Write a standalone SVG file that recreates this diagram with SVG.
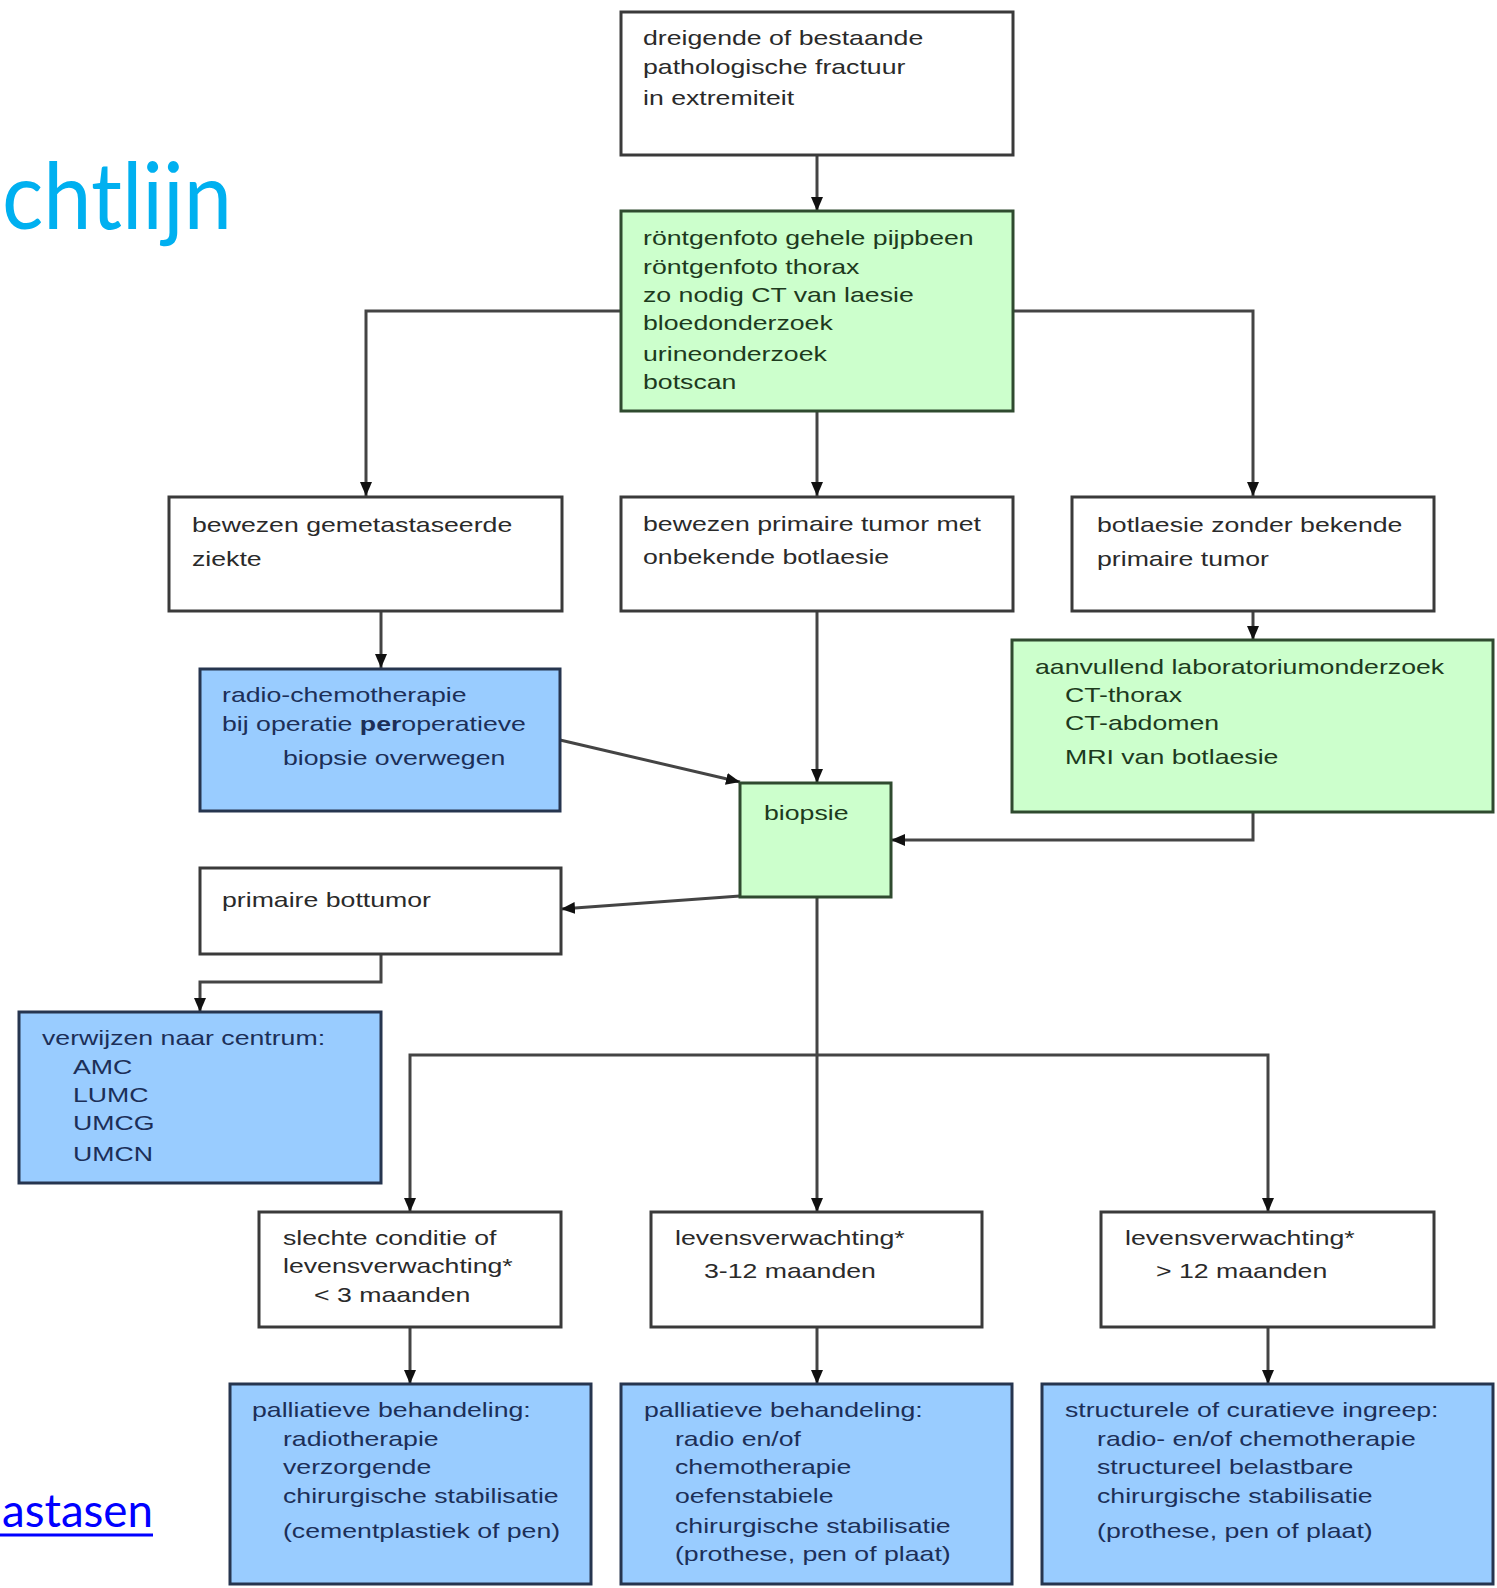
<svg xmlns="http://www.w3.org/2000/svg" width="1497" height="1588" viewBox="0 0 1497 1588">
<style>
.box{stroke-width:3}
.w{fill:#ffffff;stroke:#3a3a3a}
.g{fill:#ccffcc;stroke:#2f4a2f}
.b{fill:#99ccff;stroke:#26354f}
.t{font-family:"Liberation Sans",Arial,sans-serif;font-size:21px}
.tw{fill:#2a2a2a}
.tg{fill:#1d3a1d}
.tb{fill:#1c2f58}
.con{fill:none;stroke:#444;stroke-width:3}
</style>
<defs>
<marker id="ah" markerWidth="14" markerHeight="14" refX="14" refY="7" orient="auto" markerUnits="userSpaceOnUse"><path d="M0,1 L14,7 L0,13 z" fill="#111"/></marker>
</defs>
<rect width="1497" height="1588" fill="#ffffff"/>
<text x="2" y="229" font-family="Lato, 'Open Sans', sans-serif" font-size="94" fill="#00b0f0" textLength="230" lengthAdjust="spacingAndGlyphs">chtlijn</text>
<text x="2" y="1527" font-family="Lato, 'Open Sans', sans-serif" font-size="47" fill="#0000ff" textLength="151" lengthAdjust="spacingAndGlyphs">astasen</text>
<line x1="0" y1="1535" x2="153" y2="1535" stroke="#0000ff" stroke-width="3"/>

<g id="connectors">
<path class="con" d="M817,155 V211" marker-end="url(#ah)"/>
<path class="con" d="M621,311 H366 V496" marker-end="url(#ah)"/>
<path class="con" d="M1013,311 H1253 V496" marker-end="url(#ah)"/>
<path class="con" d="M817,411 V496" marker-end="url(#ah)"/>
<path class="con" d="M817,611 V783" marker-end="url(#ah)"/>
<path class="con" d="M381,611 V668" marker-end="url(#ah)"/>
<path class="con" d="M1253,611 V640" marker-end="url(#ah)"/>
<path class="con" d="M1253,812 V840 H891" marker-end="url(#ah)"/>
<path class="con" d="M560,740 L740,782" marker-end="url(#ah)"/>
<path class="con" d="M740,896 L561,909" marker-end="url(#ah)"/>
<path class="con" d="M381,954 V982 H200 V1012" marker-end="url(#ah)"/>
<path class="con" d="M817,897 V1212" marker-end="url(#ah)"/>
<path class="con" d="M817,1055 H410 V1212" marker-end="url(#ah)"/>
<path class="con" d="M817,1055 H1268 V1212" marker-end="url(#ah)"/>
<path class="con" d="M410,1327 V1384" marker-end="url(#ah)"/>
<path class="con" d="M817,1327 V1384" marker-end="url(#ah)"/>
<path class="con" d="M1268,1327 V1384" marker-end="url(#ah)"/>
</g>

<g id="n-fractuur">
<rect class="box w" x="621" y="12" width="392" height="143"/>
<text class="t tw" transform="translate(643 0) scale(1.27 1)"><tspan x="0" y="45">dreigende of bestaande</tspan><tspan x="0" y="74">pathologische fractuur</tspan><tspan x="0" y="105">in extremiteit</tspan></text>
</g>

<g id="n-onderzoek">
<rect class="box g" x="621" y="211" width="392" height="200"/>
<text class="t tg" transform="translate(643 0) scale(1.27 1)"><tspan x="0" y="245">röntgenfoto gehele pijpbeen</tspan><tspan x="0" y="274">röntgenfoto thorax</tspan><tspan x="0" y="302">zo nodig CT van laesie</tspan><tspan x="0" y="330">bloedonderzoek</tspan><tspan x="0" y="361">urineonderzoek</tspan><tspan x="0" y="389">botscan</tspan></text>
</g>

<g id="n-gemetastaseerd">
<rect class="box w" x="169" y="497" width="393" height="114"/>
<text class="t tw" transform="translate(192 0) scale(1.27 1)"><tspan x="0" y="532">bewezen gemetastaseerde</tspan><tspan x="0" y="566">ziekte</tspan></text>
</g>

<g id="n-primaire-tumor">
<rect class="box w" x="621" y="497" width="392" height="114"/>
<text class="t tw" transform="translate(643 0) scale(1.27 1)"><tspan x="0" y="531">bewezen primaire tumor met</tspan><tspan x="0" y="564">onbekende botlaesie</tspan></text>
</g>

<g id="n-botlaesie">
<rect class="box w" x="1072" y="497" width="362" height="114"/>
<text class="t tw" transform="translate(1097 0) scale(1.27 1)"><tspan x="0" y="532">botlaesie zonder bekende</tspan><tspan x="0" y="566">primaire tumor</tspan></text>
</g>

<g id="n-aanvullend">
<rect class="box g" x="1012" y="640" width="481" height="172"/>
<text class="t tg" transform="translate(1035 0) scale(1.27 1)"><tspan x="0" y="674">aanvullend laboratoriumonderzoek</tspan><tspan x="23.6" y="702">CT-thorax</tspan><tspan x="23.6" y="730">CT-abdomen</tspan><tspan x="23.6" y="764">MRI van botlaesie</tspan></text>
</g>

<g id="n-radio">
<rect class="box b" x="200" y="669" width="360" height="142"/>
<text class="t tb" transform="translate(222 0) scale(1.27 1)"><tspan x="0" y="702">radio-chemotherapie</tspan><tspan x="0" y="731">bij operatie <tspan font-weight="bold">per</tspan>operatieve</tspan><tspan x="48" y="765">biopsie overwegen</tspan></text>
</g>

<g id="n-biopsie">
<rect class="box g" x="740" y="783" width="151" height="114"/>
<text class="t tg" transform="translate(764 0) scale(1.27 1)"><tspan x="0" y="820">biopsie</tspan></text>
</g>

<g id="n-bottumor">
<rect class="box w" x="200" y="868" width="361" height="86"/>
<text class="t tw" transform="translate(222 0) scale(1.27 1)"><tspan x="0" y="907">primaire bottumor</tspan></text>
</g>

<g id="n-verwijzen">
<rect class="box b" x="19" y="1012" width="362" height="171"/>
<text class="t tb" transform="translate(42 0) scale(1.27 1)"><tspan x="0" y="1045">verwijzen naar centrum:</tspan><tspan x="24.4" y="1074">AMC</tspan><tspan x="24.4" y="1102">LUMC</tspan><tspan x="24.4" y="1130">UMCG</tspan><tspan x="24.4" y="1161">UMCN</tspan></text>
</g>

<g id="n-slechte">
<rect class="box w" x="259" y="1212" width="302" height="115"/>
<text class="t tw" transform="translate(283 0) scale(1.27 1)"><tspan x="0" y="1245">slechte conditie of</tspan><tspan x="0" y="1273">levensverwachting*</tspan><tspan x="24.4" y="1302">&lt; 3 maanden</tspan></text>
</g>

<g id="n-lev-3-12">
<rect class="box w" x="651" y="1212" width="331" height="115"/>
<text class="t tw" transform="translate(675 0) scale(1.27 1)"><tspan x="0" y="1245">levensverwachting*</tspan><tspan x="22.8" y="1278">3-12 maanden</tspan></text>
</g>

<g id="n-lev-12">
<rect class="box w" x="1101" y="1212" width="333" height="115"/>
<text class="t tw" transform="translate(1125 0) scale(1.27 1)"><tspan x="0" y="1245">levensverwachting*</tspan><tspan x="24.4" y="1278">&gt; 12 maanden</tspan></text>
</g>

<g id="n-palliatief-1">
<rect class="box b" x="230" y="1384" width="361" height="200"/>
<text class="t tb" transform="translate(252 0) scale(1.27 1)"><tspan x="0" y="1417">palliatieve behandeling:</tspan><tspan x="24.4" y="1446">radiotherapie</tspan><tspan x="24.4" y="1474">verzorgende</tspan><tspan x="24.4" y="1503">chirurgische stabilisatie</tspan><tspan x="24.4" y="1538">(cementplastiek of pen)</tspan></text>
</g>

<g id="n-palliatief-2">
<rect class="box b" x="621" y="1384" width="391" height="200"/>
<text class="t tb" transform="translate(644 0) scale(1.27 1)"><tspan x="0" y="1417">palliatieve behandeling:</tspan><tspan x="24.4" y="1446">radio en/of</tspan><tspan x="24.4" y="1474">chemotherapie</tspan><tspan x="24.4" y="1503">oefenstabiele</tspan><tspan x="24.4" y="1533">chirurgische stabilisatie</tspan><tspan x="24.4" y="1561">(prothese, pen of plaat)</tspan></text>
</g>

<g id="n-structureel">
<rect class="box b" x="1042" y="1384" width="451" height="200"/>
<text class="t tb" transform="translate(1065 0) scale(1.27 1)"><tspan x="0" y="1417">structurele of curatieve ingreep:</tspan><tspan x="25.2" y="1446">radio- en/of chemotherapie</tspan><tspan x="25.2" y="1474">structureel belastbare</tspan><tspan x="25.2" y="1503">chirurgische stabilisatie</tspan><tspan x="25.2" y="1538">(prothese, pen of plaat)</tspan></text>
</g>
</svg>
